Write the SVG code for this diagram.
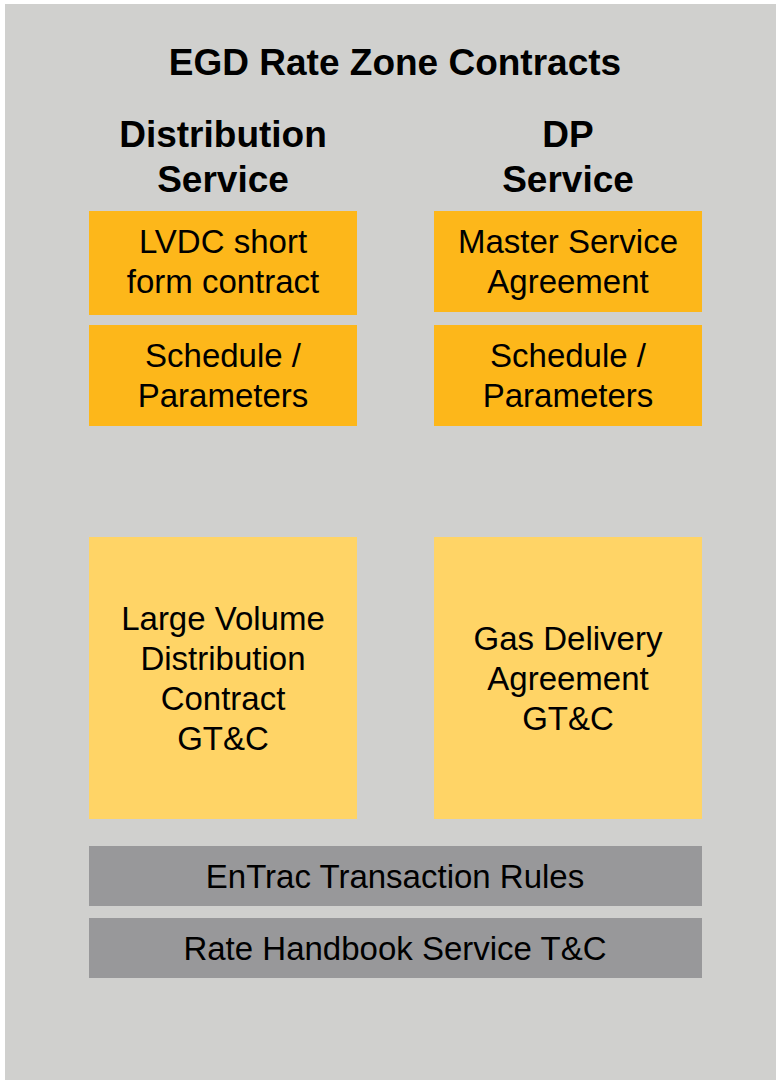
<svg xmlns="http://www.w3.org/2000/svg" width="776" height="1080" viewBox="0 0 776 1080">
<style>
.t{font-family:"Liberation Sans",Arial,sans-serif;fill:#000;text-anchor:middle}
.title{font-size:37px;font-weight:bold}
.head{font-size:37px;font-weight:bold}
.body{font-size:33px}
.or{fill:#FDB71A}
.ye{fill:#FFD466}
.gr{fill:#98989A}
</style>
<rect x="0" y="0" width="776" height="1080" fill="#ffffff"/>
<rect x="5" y="4" width="771" height="1076" fill="#D0D0CE"/>
<text class="t title" x="395" y="75">EGD Rate Zone Contracts</text>
<g id="head-dist"><text class="t head" x="223" y="147">Distribution</text><text class="t head" x="223" y="192">Service</text></g>
<g id="head-dp"><text class="t head" x="568" y="147">DP</text><text class="t head" x="568" y="192">Service</text></g>
<g id="lvdc"><rect class="or" x="89" y="211" width="268" height="104"/><text class="t body" x="223" y="253">LVDC short</text><text class="t body" x="223" y="293">form contract</text></g>
<g id="msa"><rect class="or" x="434" y="211" width="268" height="101"/><text class="t body" x="568" y="253">Master Service</text><text class="t body" x="568" y="293">Agreement</text></g>
<g id="sched-dist"><rect class="or" x="89" y="325" width="268" height="101"/><text class="t body" x="223" y="367">Schedule /</text><text class="t body" x="223" y="407">Parameters</text></g>
<g id="sched-dp"><rect class="or" x="434" y="325" width="268" height="101"/><text class="t body" x="568" y="367">Schedule /</text><text class="t body" x="568" y="407">Parameters</text></g>
<g id="lvdc-gtc"><rect class="ye" x="89" y="537" width="268" height="282"/><text class="t body" x="223" y="630">Large Volume</text><text class="t body" x="223" y="670">Distribution</text><text class="t body" x="223" y="710">Contract</text><text class="t body" x="223" y="750">GT&amp;C</text></g>
<g id="gda-gtc"><rect class="ye" x="434" y="537" width="268" height="282"/><text class="t body" x="568" y="650">Gas Delivery</text><text class="t body" x="568" y="690">Agreement</text><text class="t body" x="568" y="730">GT&amp;C</text></g>
<g id="entrac"><rect class="gr" x="89" y="846" width="613" height="60"/><text class="t body" x="395" y="888">EnTrac Transaction Rules</text></g>
<g id="handbook"><rect class="gr" x="89" y="918" width="613" height="60"/><text class="t body" x="395" y="960">Rate Handbook Service T&amp;C</text></g>
<g id="connectors"></g>
</svg>
